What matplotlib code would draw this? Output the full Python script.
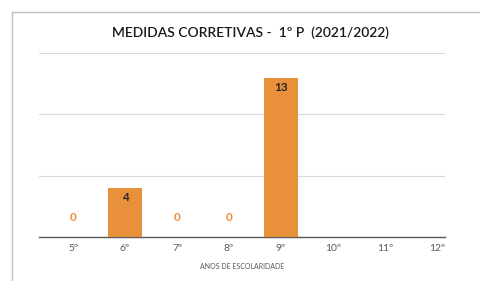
"""Medidas corretivas - gráfico de barras por ano de escolaridade."""

import matplotlib

matplotlib.use("Agg")
import matplotlib.pyplot as plt
from matplotlib.lines import Line2D

plt.rcParams["font.family"] = ["Lato", "DejaVu Sans"]

anos = ["5º", "6º", "7º", "8º", "9º", "10º", "11º", "12º"]
medidas = [0, 4, 0, 0, 13, None, None, None]

BAR_COLOR = "#E8913A"

fig = plt.figure(figsize=(4.8, 2.81), dpi=100, facecolor="white")

# moldura do gráfico (recortada à direita e em baixo)
fx, fy = 11.5 / 480, 1 - 11.5 / 281
fig.lines.append(Line2D([fx, fx], [0, fy], transform=fig.transFigure,
                        color="#BFBFBF", linewidth=1.0))
fig.lines.append(Line2D([fx, 1], [fy, fy], transform=fig.transFigure,
                        color="#BFBFBF", linewidth=1.0))

ax = fig.add_axes([39 / 480, 1 - 237 / 281, (445 - 39) / 480, (237 - 53) / 281])
xs = list(range(len(anos)))
for x, v in zip(xs, medidas):
    if v is None:
        continue
    ax.bar(x, v, width=0.635, color=BAR_COLOR, zorder=3)
    if v > 0:
        ax.annotate(str(v), (x, v), xytext=(0, -7), textcoords="offset points",
                    ha="center", va="center", fontsize=8.5, fontweight="bold",
                    color="#262626", zorder=4)
    else:
        ax.annotate(str(v), (x, v), xytext=(0, 14), textcoords="offset points",
                    ha="center", va="center", fontsize=8.5, fontweight="bold",
                    color=BAR_COLOR, zorder=4)

ax.set_xlim(-0.654, 7.154)
ax.set_ylim(0, 15)
ax.set_yticks([0, 5, 10, 15])
ax.yaxis.grid(True, color="#D9D9D9", linewidth=0.8, zorder=0)
ax.tick_params(axis="y", left=False, labelleft=False)
ax.set_xticks(xs)
ax.set_xticklabels(anos, fontsize=7.5, color="#595959")
ax.tick_params(axis="x", length=0, pad=5)
for s in ("left", "right", "top"):
    ax.spines[s].set_visible(False)
ax.spines["bottom"].set_color("#595959")
ax.spines["bottom"].set_linewidth(1.0)
ax.set_xlabel("ANOS DE ESCOLARIDADE", fontsize=5, color="#595959", labelpad=7)

fig.text(250 / 480, 1 - 33 / 281, "MEDIDAS CORRETIVAS -  1º P  (2021/2022)",
         ha="center", va="center", fontsize=10, color="#1a1a1a",
         fontweight="semibold")

fig.savefig("out.png", dpi=100, facecolor="white")
